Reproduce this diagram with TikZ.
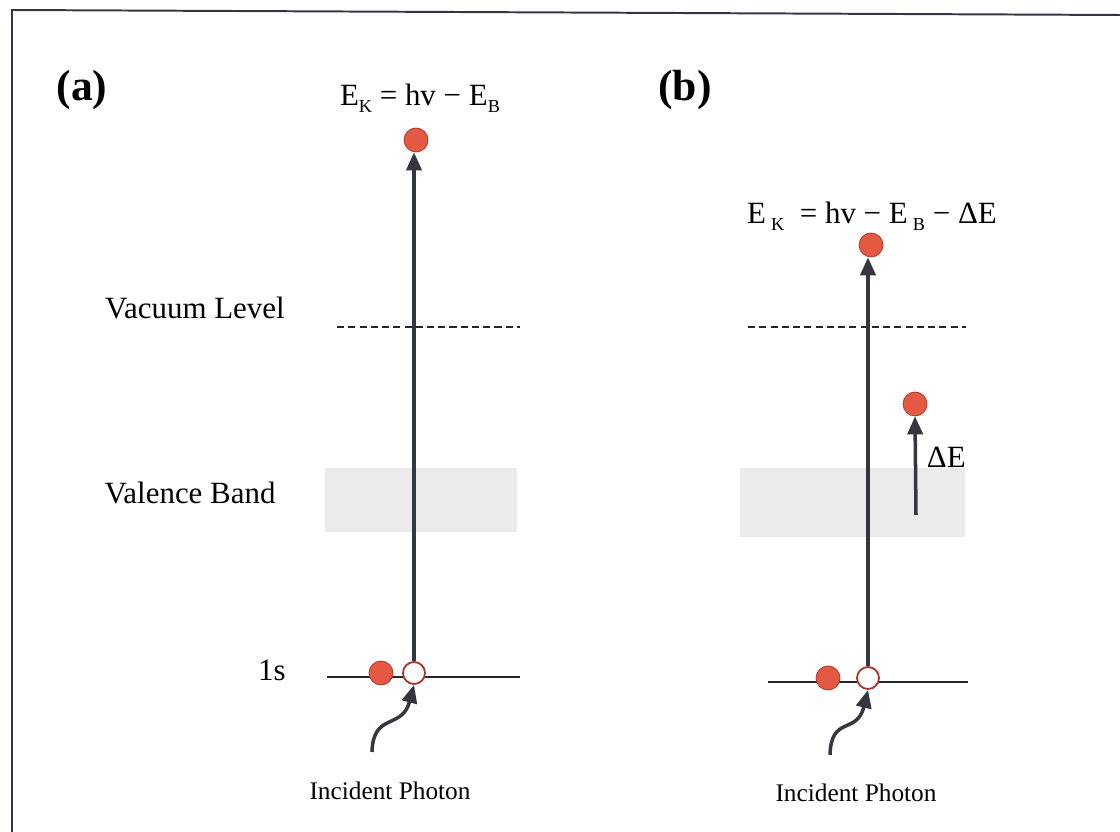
\documentclass[tikz,border=0pt]{standalone}
\usepackage{fontspec}
\setmainfont{Liberation Serif}
\usetikzlibrary{arrows.meta}

\definecolor{dotred}{RGB}{229,88,66}
\definecolor{dotedge}{RGB}{168,52,42}
\definecolor{arrowgray}{RGB}{52,55,64}
\definecolor{framegray}{RGB}{50,54,66}
\newcommand{\lowsub}[1]{\raisebox{-0.5ex}{\fontsize{13}{14}\selectfont #1}}

\begin{document}
\begin{tikzpicture}[x=0.025cm, y=-0.025cm,
    electron/.style={circle, fill=dotred, draw=dotedge, line width=0.5pt, minimum size=0.6cm, inner sep=0pt},
    hole/.style={circle, fill=white, draw=dotedge, line width=1.3pt, minimum size=0.55cm, inner sep=0pt},
    level/.style={line width=1.4pt, black!85},
    vacuum/.style={line width=1.1pt, black!85, dash pattern=on 5pt off 3pt},
    band/.style={fill=black!8, draw=none},
    jump/.style={line width=2.5pt, arrowgray, -{Triangle[length=0.45cm, width=0.38cm]}},
    txt/.style={font=\fontsize{22}{26}\selectfont},
    small/.style={font=\fontsize{18}{22}\selectfont},
    panel/.style={font=\fontsize{31}{36}\selectfont\bfseries}
]
\useasboundingbox (0,0) rectangle (1120,832);

% frame
\draw[framegray, line width=1.4pt] (12,832) -- (12,10) -- (1120,15);

% panel (a)
\node[panel] (tagA) at (82,90) {(a)};
\node[txt] (eqA) at (420,98) {E\lowsub{K} = hv − E\lowsub{B}};
\node[txt] (vacText) at (195,308) {Vacuum Level};
\node[txt] (bandText) at (190,493) {Valence Band};
\node[txt] (coreText) at (272,670) {1s};
\node[small] (photonTextA) at (390,791) {Incident Photon};

\fill[band] (325,468) rectangle (517,532);
\draw[vacuum] (337,327) -- (520,327);
\draw[level] (327,677) -- (520,677);

\node[electron] (outA) at (416,140) {};
\node[electron] (coreA) at (381,673) {};
\node[hole] (holeA) at (414,673) {};
\coordinate (srcA) at (372,752);

\draw[jump] (holeA.north) -- (holeA.north |- outA.south);
\draw[jump] (srcA) .. controls (373,712) and (402,730) .. (holeA.south);

% panel (b)
\node[panel] (tagB) at (685,90) {(b)};
\node[txt] (eqB) at (872,216) {E\,\lowsub{K}\ \ = hv − E\,\lowsub{B} − ΔE};
\node[small] (photonTextB) at (856,793) {Incident Photon};

\fill[band] (740,468) rectangle (965,537);
\draw[vacuum] (748,327) -- (966,327);
\draw[level] (768,682) -- (968,682);

\node[electron] (outB) at (871,245) {};
\node[electron] (bandB) at (915,404) {};
\node[electron] (coreB) at (828,678) {};
\node[hole] (holeB) at (868,678) {};
\coordinate (srcB) at (830,755);
\coordinate (bandStart) at (916,515);

\draw[jump] (holeB.north) -- (holeB.north |- outB.south);
\draw[jump] (bandStart) -- (bandB.south);
\node[txt, anchor=west] (gapText) at (922,457) {ΔE};
\draw[jump] (srcB) .. controls (831,715) and (857,735) .. (holeB.south);

\end{tikzpicture}
\end{document}
